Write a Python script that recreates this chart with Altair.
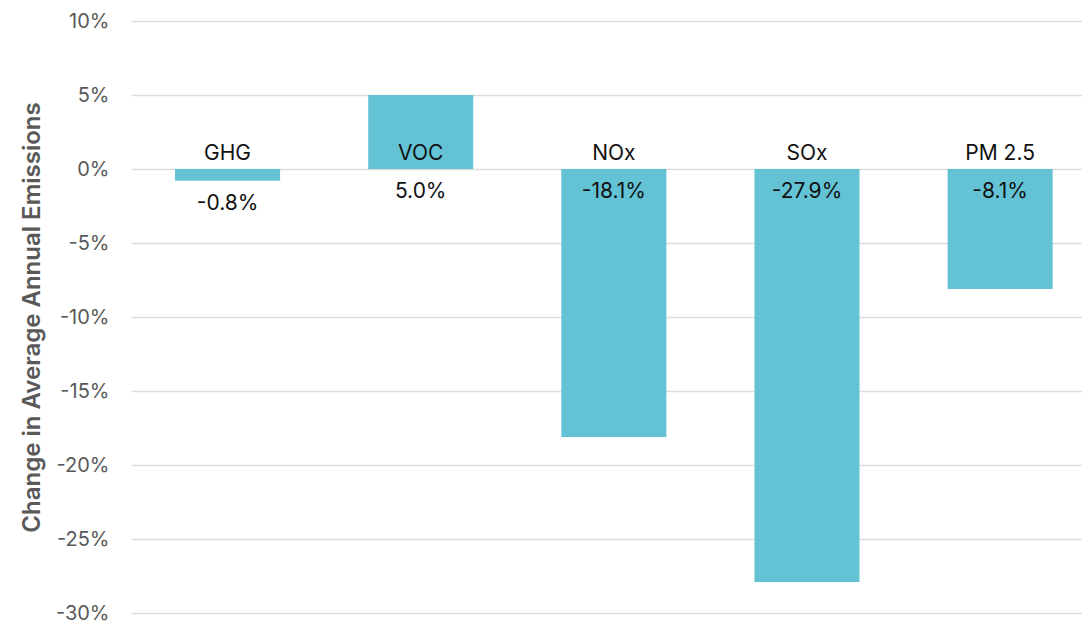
import altair as alt
import pandas as pd

categories = ["GHG", "VOC", "NOx", "SOx", "PM 2.5"]
values = [-0.8, 5.0, -18.1, -27.9, -8.1]
value_labels = ["-0.8%", "5.0%", "-18.1%", "-27.9%", "-8.1%"]
y_ticks = [10, 5, 0, -5, -10, -15, -20, -25, -30]

df = pd.DataFrame({"cat": categories, "value": values, "vlabel": value_labels})

FONT = "Inter"
x_enc = alt.X("cat:N", sort=categories, axis=None,
              scale=alt.Scale(paddingInner=0.456, paddingOuter=0.19, align=0.6))

bars = alt.Chart(df).mark_bar(color="#63C3D5").encode(
    x=x_enc,
    y=alt.Y("value:Q",
            scale=alt.Scale(domain=[-30, 10], nice=False),
            axis=alt.Axis(values=y_ticks, labelExpr="datum.value + '%'",
                          title="Change in Average Annual Emissions",
                          titleFont=FONT, titleFontSize=24, titleFontWeight=600,
                          titleColor="#595959", titlePadding=11,
                          labelFont=FONT, labelFontSize=20, labelColor="#595959",
                          labelPadding=22, ticks=False, domain=False,
                          grid=True, gridColor="#DDDDDD", gridWidth=1.5)),
)

cat_text = alt.Chart(df).mark_text(font=FONT, fontSize=21, color="#111111",
                                   baseline="middle", dy=-15).encode(
    x=x_enc, y=alt.datum(0), text="cat:N")

val_text = alt.Chart(df).transform_calculate(
    anchor="datum.value < 0 && datum.value > -2 ? datum.value : 0"
).mark_text(font=FONT, fontSize=21, color="#111111",
            baseline="middle", dy=23).encode(
    x=x_enc, y="anchor:Q", text="vlabel:N")

chart = (bars + cat_text + val_text).properties(
    width=951, height=592,
    padding={"left": 12, "top": 3, "right": 0, "bottom": 0},
).configure_view(stroke=None)

chart.save("out.html", embed_options={"renderer": "svg", "actions": False})
